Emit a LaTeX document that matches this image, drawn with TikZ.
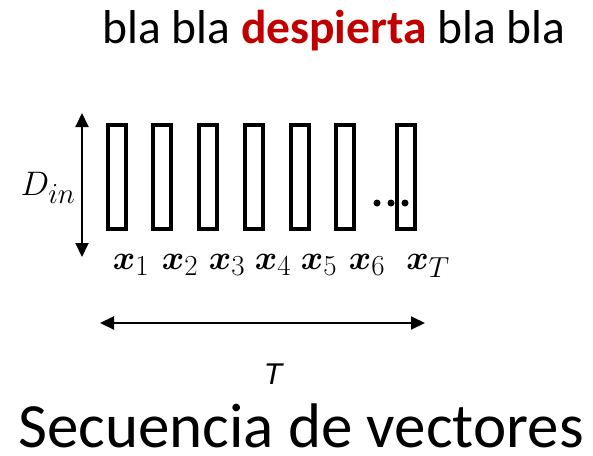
\RequirePackage{fix-cm}
\documentclass[tikz,border=0pt]{standalone}
\usepackage{amsmath}
\usepackage{bm}
\usepackage{fontspec}
\setmainfont{Carlito}
\newfontfamily\arialfont{Liberation Sans}
\usetikzlibrary{arrows.meta}
\DeclareMathSizes{34}{34}{29}{20}
\definecolor{darkred}{HTML}{C00000}
\tikzset{
  vecbox/.style={draw, line width=4.5pt, minimum width=18pt, minimum height=104pt, inner sep=0pt},
  lbl/.style={anchor=base, inner sep=0pt, font=\fontsize{34}{40}\selectfont},
  dimarrow/.style={line width=2pt, {Triangle[length=14pt,width=13pt]}-{Triangle[length=14pt,width=13pt]}},
  dotc/.style={circle, fill, inner sep=0pt, minimum size=7pt}
}
\begin{document}
\begin{tikzpicture}[x=1pt,y=-1pt]
\useasboundingbox (0,0) rectangle (593,455);
\node[anchor=base, inner sep=0pt, font=\fontsize{47.5}{52}\selectfont] (title) at (334,43) {bla bla \textcolor{darkred}{\textbf{despierta}} bla bla};
\foreach \i/\cx in {1/117,2/162,3/208,4/254,5/300,6/345}{
  \node[vecbox] (r\i) at (\cx,177) {};
}
\node[vecbox] (rT) at (406,177) {};
\node[dotc] (d1) at (377,203) {};
\node[dotc] (d2) at (391,203) {};
\node[dotc] (d3) at (405,203) {};
\coordinate (vt) at (82,113);
\coordinate (vb) at (82,257);
\draw[dimarrow] (vt) -- (vb);
\node[inner sep=0pt, font=\fontsize{34}{40}\selectfont] (din) at (48,188) {$D_{in}$};
\foreach \i/\cx in {1/131,2/180,3/227,4/273,5/319,6/367}{
  \node[lbl] (x\i) at (\cx,269) {$\boldsymbol{x}_{\i}$};
}
\node[lbl] (xT) at (428,269) {$\boldsymbol{x}_{T}$};
\coordinate (hl) at (100,323);
\coordinate (hr) at (425,323);
\draw[dimarrow] (hl) -- (hr);
\node[inner sep=0pt, font=\arialfont\itshape\fontsize{30}{36}\selectfont] (T) at (273,374) {T};
\node[anchor=base, inner sep=0pt, text depth=0pt, font=\fontsize{63}{70}\selectfont] (sub) at (301,447) {Secuencia de vectores};
\end{tikzpicture}
\end{document}
